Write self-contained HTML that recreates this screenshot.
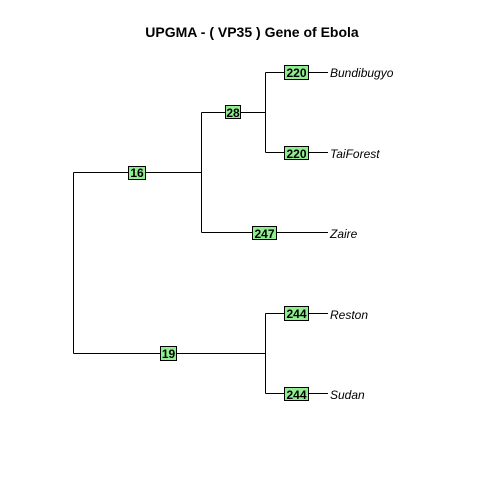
<!DOCTYPE html>
<html><head><style>body{margin:0;background:#fff}</style></head><body>
<svg width="480" height="480" xmlns="http://www.w3.org/2000/svg" font-family="Liberation Sans, sans-serif">
<rect width="480" height="480" fill="#fff"/>
<text x="252" y="37" text-anchor="middle" font-weight="bold" font-size="14">UPGMA - ( VP35 ) Gene of Ebola</text>
<g stroke="#000" stroke-width="1" fill="none">
<path d="M73.5 172.5V353.5M73.5 172.5H201.5M201.5 112.5V232.5M201.5 112.5H265.5M265.5 72.5V152.5M265.5 72.5H328M265.5 152.5H328M201.5 232.5H328M73.5 353.5H265.5M265.5 313.5V393.5M265.5 313.5H328M265.5 393.5H328"/>
</g>
<g fill="#90ee90" stroke="#000" stroke-width="1">
<rect x="128.5" y="166.5" width="17" height="13"/>
<rect x="225.5" y="105.5" width="15" height="13"/>
<rect x="284.5" y="65.5" width="24" height="14"/>
<rect x="284.5" y="146.5" width="24" height="13"/>
<rect x="252.5" y="226.5" width="24" height="13"/>
<rect x="160.5" y="346.5" width="16" height="14"/>
<rect x="284.5" y="306.5" width="24" height="14"/>
<rect x="284.5" y="387.5" width="24" height="13"/>
</g>
<g font-weight="bold" font-size="12" text-anchor="middle">
<text x="137" y="177">16</text>
<text x="233" y="117">28</text>
<text x="296.5" y="77">220</text>
<text x="296.5" y="158">220</text>
<text x="264.5" y="238">247</text>
<text x="168.5" y="358">19</text>
<text x="296.5" y="318">244</text>
<text x="296.5" y="399">244</text>
</g>
<g font-style="italic" font-size="12">
<text x="330" y="77">Bundibugyo</text>
<text x="330" y="158">TaiForest</text>
<text x="330" y="238">Zaire</text>
<text x="330" y="319">Reston</text>
<text x="330" y="399">Sudan</text>
</g>
</svg>
</body></html>
